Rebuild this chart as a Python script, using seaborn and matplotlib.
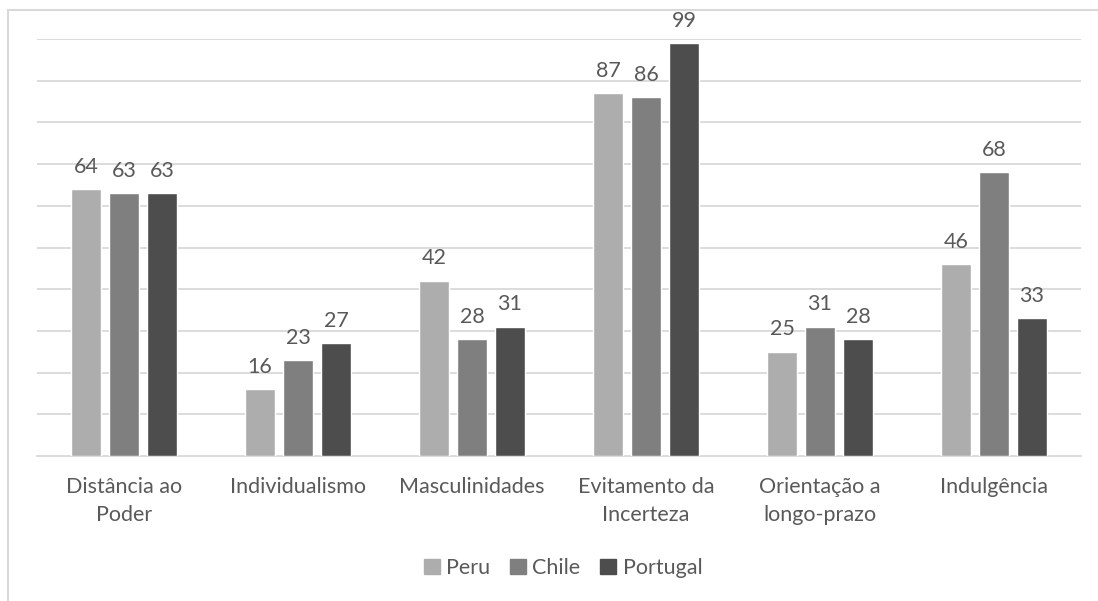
import pandas as pd
import numpy as np
import matplotlib
matplotlib.use('Agg')
import matplotlib.pyplot as plt
import seaborn as sns
from matplotlib.patches import Rectangle, Patch

# dados
categorias = ['Distância ao\nPoder', 'Individualismo', 'Masculinidades',
              'Evitamento da\nIncerteza', 'Orientação a\nlongo-prazo', 'Indulgência']
paises = ['Peru', 'Chile', 'Portugal']
peru = [64, 16, 42, 87, 25, 46]
chile = [63, 23, 28, 86, 31, 68]
portugal = [63, 27, 31, 99, 28, 33]
cores = ['#ADADAD', '#7F7F7F', '#4D4D4D']

df = pd.DataFrame({
    'categoria': categorias * 3,
    'pais': [p for p in paises for _ in categorias],
    'valor': peru + chile + portugal,
})

sns.set_style('white')
plt.rcParams['font.family'] = ['Lato', 'DejaVu Sans']
texto = '#595959'
grade = '#D9D9D9'
fs = 15.5

fig = plt.figure(figsize=(10.98, 6.01), dpi=100)
ax = fig.add_axes([37/1098, 145/601, 1044/1098, 417/601])

sns.barplot(data=df, x='categoria', y='valor', hue='pais', palette=cores,
            order=categorias, hue_order=paises, width=0.655, gap=0.21,
            saturation=1, ax=ax, legend=False, zorder=3)

for cont in ax.containers:
    ax.bar_label(cont, padding=9, fontsize=fs, color=texto)

ax.set_ylim(0, 100)
ax.set_xlim(-0.5, len(categorias) - 0.5)
ax.set_yticks(np.arange(10, 101, 10))
ax.yaxis.grid(True, color=grade, lw=1.3, zorder=0)
ax.set_yticklabels([])
ax.tick_params(axis='y', length=0)
ax.set_xlabel('')
ax.set_ylabel('')
for s in ['top', 'right', 'left']:
    ax.spines[s].set_visible(False)
ax.spines['bottom'].set_color(grade)
ax.spines['bottom'].set_linewidth(1.3)

ax.set_xticks(np.arange(-0.5, len(categorias)), minor=True)
ax.tick_params(axis='x', which='minor', length=7, color=grade, width=1.3)
ax.tick_params(axis='x', which='major', length=0, pad=15, labelsize=fs,
               labelcolor=texto)
for lbl in ax.get_xticklabels():
    lbl.set_linespacing(1.5)

handles = [Patch(color=c, label=p) for c, p in zip(cores, paises)]
fig.legend(handles=handles, loc='center', bbox_to_anchor=(563/1098, 1 - 568/601),
           ncol=3, frameon=False, fontsize=fs, labelcolor=texto,
           handlelength=0.75, handleheight=0.75, handletextpad=0.3,
           columnspacing=0.9)

# moldura do gráfico
fig.patches.append(Rectangle((8/1098, -0.1), 1.2, 1 - 10/601 + 0.1,
                             transform=fig.transFigure, fill=False,
                             edgecolor=grade, lw=1.5))

fig.savefig('out.png', dpi=100)
